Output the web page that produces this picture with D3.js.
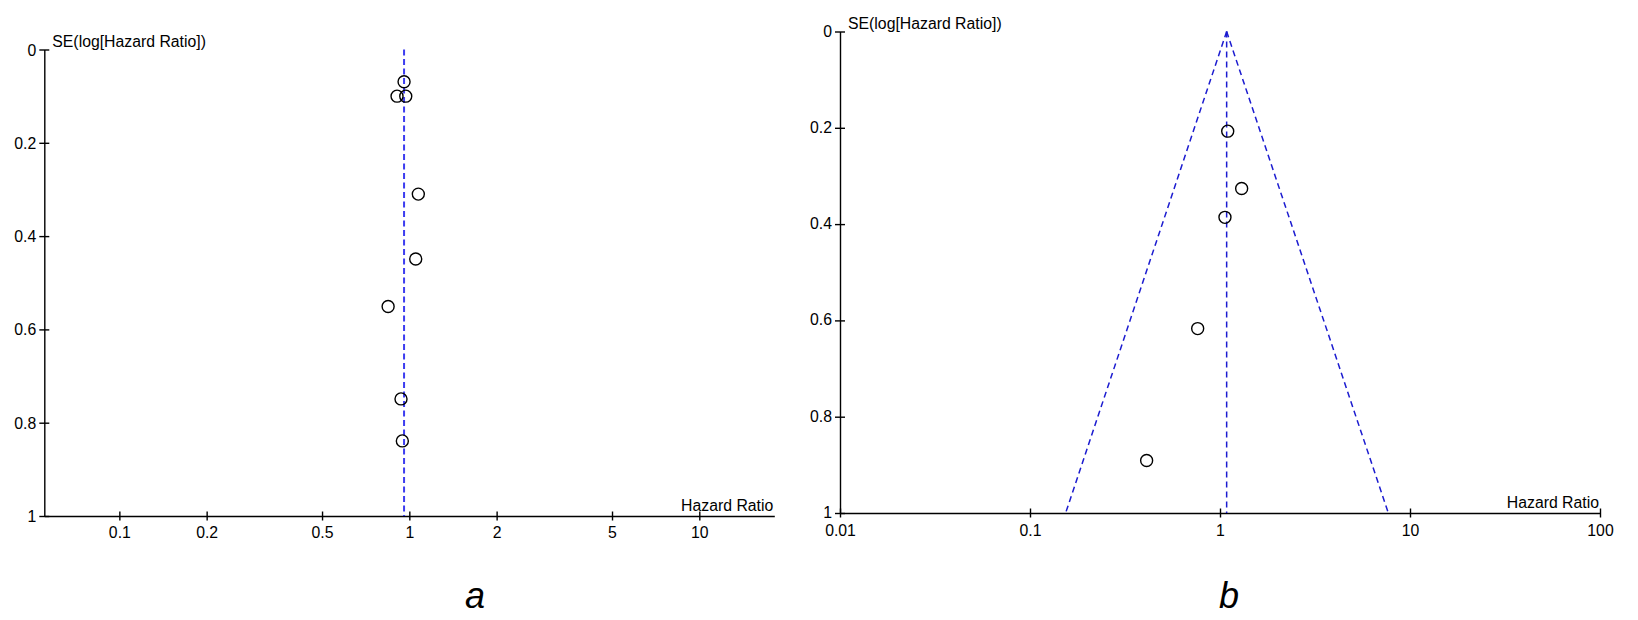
<!DOCTYPE html>
<html>
<head>
<meta charset="utf-8">
<script src="https://cdn.jsdelivr.net/npm/d3@7"></script>
<style>
  html, body { margin: 0; padding: 0; background: #fff; }
  svg { display: block; }
  text { font-family: "Liberation Sans", Arial, sans-serif; fill: #000; }
</style>
</head>
<body>
<svg id="chart" width="1638" height="620"></svg>
<script>
// ---------- data ----------
// Panel a
const hrA = [0.959, 0.907, 0.972, 1.074, 1.052, 0.845, 0.936, 0.946];
const seA = [0.069, 0.100, 0.100, 0.310, 0.449, 0.551, 0.749, 0.839];
const pooledA = 0.959;
const xTicksA = [0.1, 0.2, 0.5, 1, 2, 5, 10];
const xDomainA = [0.0551, 18.14];

// Panel b
const hrB = [1.098, 1.30, 1.062, 0.763, 0.411];
const seB = [0.207, 0.326, 0.386, 0.617, 0.891];
const pooledB = 1.084;
const funnelLowB = 0.154;   // HR of left funnel edge at SE = 1
const funnelHighB = 7.69;   // HR of right funnel edge at SE = 1
const xTicksB = [0.01, 0.1, 1, 10, 100];
const xDomainB = [0.01, 100];

const yTicks = [0, 0.2, 0.4, 0.6, 0.8, 1];
const yDomain = [0, 1];

const yTitle = "SE(log[Hazard Ratio])";
const xTitle = "Hazard Ratio";
const panelLabels = ["a", "b"];

// ---------- drawing ----------
const svg = d3.select("#chart");
const FONT = 15.8;

function panel(cfg) {
  const g = svg.append("g");
  const x = d3.scaleLog().domain(cfg.xDomain).range([cfg.x0, cfg.x1]);
  const y = d3.scaleLinear().domain(yDomain).range([cfg.y0, cfg.y1]);

  // y axis
  const ya = g.append("g")
    .attr("transform", `translate(${cfg.x0},0)`)
    .call(d3.axisLeft(y).tickValues(yTicks).tickFormat(d => String(d)).tickSizeOuter(0).tickSizeInner(5).tickPadding(3));
  ya.select(".domain").attr("stroke", "#000").attr("stroke-width", 1.4);
  ya.selectAll(".tick line").attr("x1", -5).attr("x2", 5).attr("stroke", "#000").attr("stroke-width", 1.4);
  ya.selectAll(".tick text")
    .attr("x", -8)
    .attr("y", cfg.yLabelBase)
    .attr("dy", 0)
    .style("font-size", FONT + "px")
    .style("font-family", "'Liberation Sans', Arial, sans-serif")
    .attr("fill", "#000");

  // x axis
  const xa = g.append("g")
    .attr("transform", `translate(0,${cfg.y1})`)
    .call(d3.axisBottom(x).tickValues(cfg.xTicks).tickFormat(d => String(d)).tickSizeOuter(0).tickSizeInner(4.5).tickPadding(4));
  xa.select(".domain").attr("stroke", "#000").attr("stroke-width", 1.4);
  xa.selectAll(".tick line").attr("y1", -4.5).attr("y2", 4.5).attr("stroke", "#000").attr("stroke-width", 1.4);
  xa.selectAll(".tick text")
    .attr("y", cfg.xLabelBase)
    .attr("dy", 0)
    .style("font-size", FONT + "px")
    .style("font-family", "'Liberation Sans', Arial, sans-serif")
    .attr("fill", "#000");

  // titles
  g.append("text")
    .attr("x", cfg.x0 + 8).attr("y", cfg.y0 - 3)
    .style("font-size", FONT + "px")
    .text(yTitle);
  g.append("text")
    .attr("x", cfg.x1 - 1).attr("y", cfg.y1 - 5)
    .attr("text-anchor", "end")
    .style("font-size", FONT + "px")
    .text(xTitle);

  // vertical pooled line
  g.append("line")
    .attr("x1", x(cfg.pooled)).attr("x2", x(cfg.pooled))
    .attr("y1", y(0)).attr("y2", y(1))
    .attr("stroke", cfg.lineColor).attr("stroke-width", cfg.lineWidth)
    .attr("stroke-dasharray", cfg.dash);

  // funnel edges
  if (cfg.funnel) {
    const line = d3.line().x(d => x(d[0])).y(d => y(d[1]));
    [[[cfg.pooled, 0], [cfg.funnel[0], 1]], [[cfg.pooled, 0], [cfg.funnel[1], 1]]].forEach(seg => {
      g.append("path").attr("d", line(seg))
        .attr("fill", "none")
        .attr("stroke", cfg.lineColor).attr("stroke-width", cfg.lineWidth)
        .attr("stroke-dasharray", cfg.dash);
    });
  }

  // points
  g.selectAll("circle.pt")
    .data(cfg.hr.map((h, i) => ({ hr: h, se: cfg.se[i] })))
    .enter().append("circle")
    .attr("class", "pt")
    .attr("cx", d => x(d.hr)).attr("cy", d => y(d.se))
    .attr("r", 6)
    .attr("fill", "none")
    .attr("stroke", "#000").attr("stroke-width", 1.4);

  // panel letter
  svg.append("text")
    .attr("x", cfg.labelX).attr("y", 608)
    .attr("text-anchor", "middle")
    .style("font-size", "36px").style("font-style", "italic")
    .text(cfg.label);
}

panel({
  x0: 44.3, x1: 774.3, y0: 49.5, y1: 516,
  xDomain: xDomainA, xTicks: xTicksA,
  hr: hrA, se: seA, pooled: pooledA,
  lineColor: "#3d3df0", lineWidth: 2, dash: "6,3.5",
  yLabelBase: 5.5, xLabelBase: 21.5,
  label: panelLabels[0], labelX: 475
});

panel({
  x0: 840, x1: 1600, y0: 31.5, y1: 513,
  xDomain: xDomainB, xTicks: xTicksB,
  hr: hrB, se: seB, pooled: pooledB, funnel: [funnelLowB, funnelHighB],
  lineColor: "#1c1cd0", lineWidth: 1.5, dash: "6,4",
  yLabelBase: 4.5, xLabelBase: 22.5,
  label: panelLabels[1], labelX: 1229
});
</script>
</body>
</html>
